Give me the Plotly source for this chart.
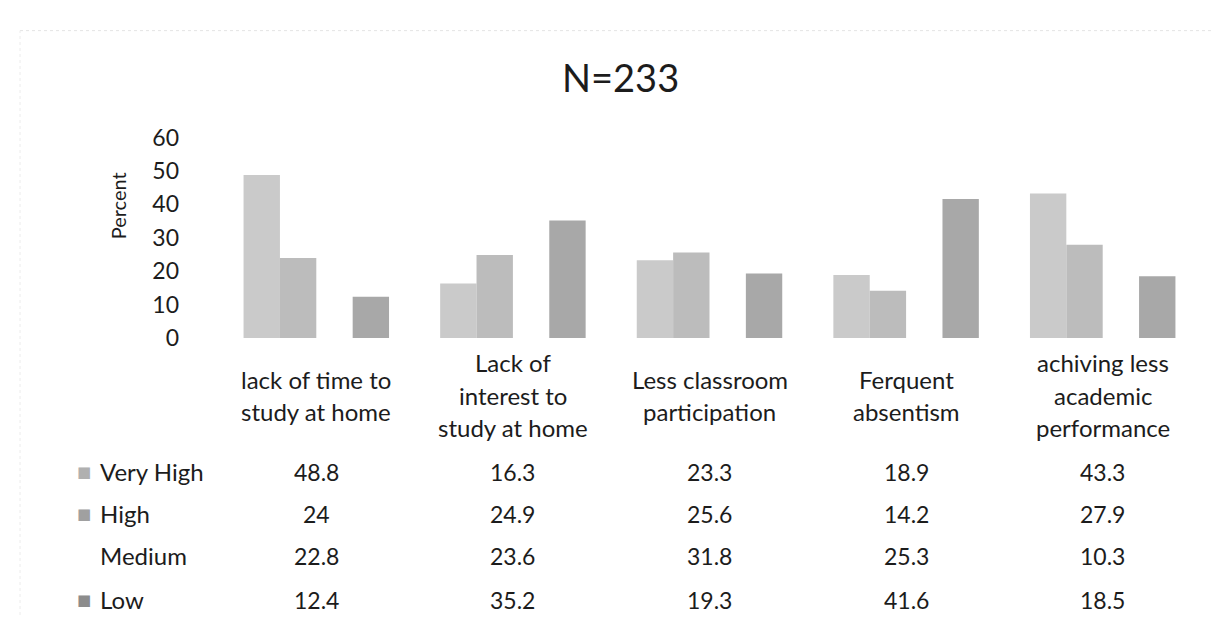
import plotly.graph_objects as go

# Data (percent of respondents, N=233)
categories = [
    "lack of time to<br>study at home",
    "Lack of<br>interest to<br>study at home",
    "Less classroom<br>participation",
    "Ferquent<br>absentism",
    "achiving less<br>academic<br>performance",
]
series_names = ["Very High", "High", "Medium", "Low"]
very_high = [48.8, 16.3, 23.3, 18.9, 43.3]
high = [24, 24.9, 25.6, 14.2, 27.9]
medium = [22.8, 23.6, 31.8, 25.3, 10.3]
low = [12.4, 35.2, 19.3, 41.6, 18.5]
y_ticks = [0, 10, 20, 30, 40, 50, 60]

series_values = [very_high, high, medium, low]
# Medium bars are blank in the scanned original
series_colors = ["#cacaca", "#bcbcbc", "rgba(255,255,255,0)", "#a8a8a8"]
key_colors = ["#b0b0b0", "#a0a0a0", "rgba(255,255,255,0)", "#8c8c8c"]

FONT = "Lato"
TEXT = "#1c1c1c"
W, H = 1221, 620


def py(px):
    """Convert a pixel row (from top) to paper y."""
    return 1 - px / H


fig = go.Figure()

for name, vals, color in zip(series_names, series_values, series_colors):
    fig.add_trace(go.Bar(
        name=name,
        x=categories,
        y=vals,
        marker=dict(color=color, line=dict(width=0)),
        hovertemplate=name + ": %{y}<extra></extra>",
    ))

annotations = []

# Category labels (data table header), one annotation per line for Excel-like spacing
line_gap = 34
for cat in categories:
    lines = cat.split("<br>")
    top = 390 - line_gap * (len(lines) - 1) / 2
    for i, line in enumerate(lines):
        annotations.append(dict(
            x=cat, xref="x", y=py(top + i * line_gap), yref="paper",
            text=line, showarrow=False,
            yanchor="middle", xanchor="center",
            font=dict(family=FONT, size=24, color=TEXT),
        ))

# Data table rows
row_px = [470, 514, 558, 604]
for name, vals, kcol, rp in zip(series_names, series_values, key_colors, row_px):
    annotations.append(dict(
        x=90 / W, xref="paper", y=py(rp), yref="paper",
        text=name, showarrow=False, xanchor="left", yanchor="middle",
        font=dict(family=FONT, size=24, color=TEXT),
    ))
    annotations.append(dict(
        x=76 / W, xref="paper", y=py(rp), yref="paper",
        text="■", showarrow=False, xanchor="center", yanchor="middle",
        font=dict(family="DejaVu Sans", size=15, color=kcol),
    ))
    for cat, v in zip(categories, vals):
        annotations.append(dict(
            x=cat, xref="x", y=py(rp), yref="paper",
            text=f"{v:g}", showarrow=False, xanchor="center", yanchor="middle",
            font=dict(family=FONT, size=23, color=TEXT),
        ))

# Y axis title
annotations.append(dict(
    x=110 / W, xref="paper", y=py(192), yref="paper",
    text="Percent", textangle=-90, showarrow=False,
    xanchor="center", yanchor="middle",
    font=dict(family=FONT, size=20, color=TEXT),
))

# Chart title
annotations.append(dict(
    x=612 / W, xref="paper", y=py(57), yref="paper",
    text="N=233", showarrow=False, xanchor="center", yanchor="middle",
    font=dict(family=FONT, size=38, color=TEXT),
))

fig.update_layout(
    width=W,
    height=H,
    margin=dict(l=0, r=0, t=0, b=0),
    paper_bgcolor="white",
    plot_bgcolor="white",
    showlegend=False,
    barmode="group",
    bargap=0.26,
    bargroupgap=0,
    xaxis=dict(
        domain=[210 / W, 1193 / W],
        showticklabels=False,
        showline=False,
        showgrid=False,
        zeroline=False,
        ticks="",
    ),
    yaxis=dict(
        domain=[py(330), py(120)],
        range=[0, 60],
        tickvals=y_ticks,
        showgrid=False,
        zeroline=False,
        showline=False,
        ticks="",
        ticklabelstandoff=38,
        tickfont=dict(family=FONT, size=23, color=TEXT),
    ),
    annotations=annotations,
    shapes=[
        # faint edge of the scanned chart frame
        dict(type="line", xref="paper", yref="paper",
             x0=12 / W, x1=1, y0=py(8), y1=py(8),
             line=dict(color="#e4e4e4", width=1, dash="dot")),
        dict(type="line", xref="paper", yref="paper",
             x0=12 / W, x1=12 / W, y0=0, y1=py(8),
             line=dict(color="#ececec", width=1, dash="dot")),
    ],
)

fig.write_html("out.html")
